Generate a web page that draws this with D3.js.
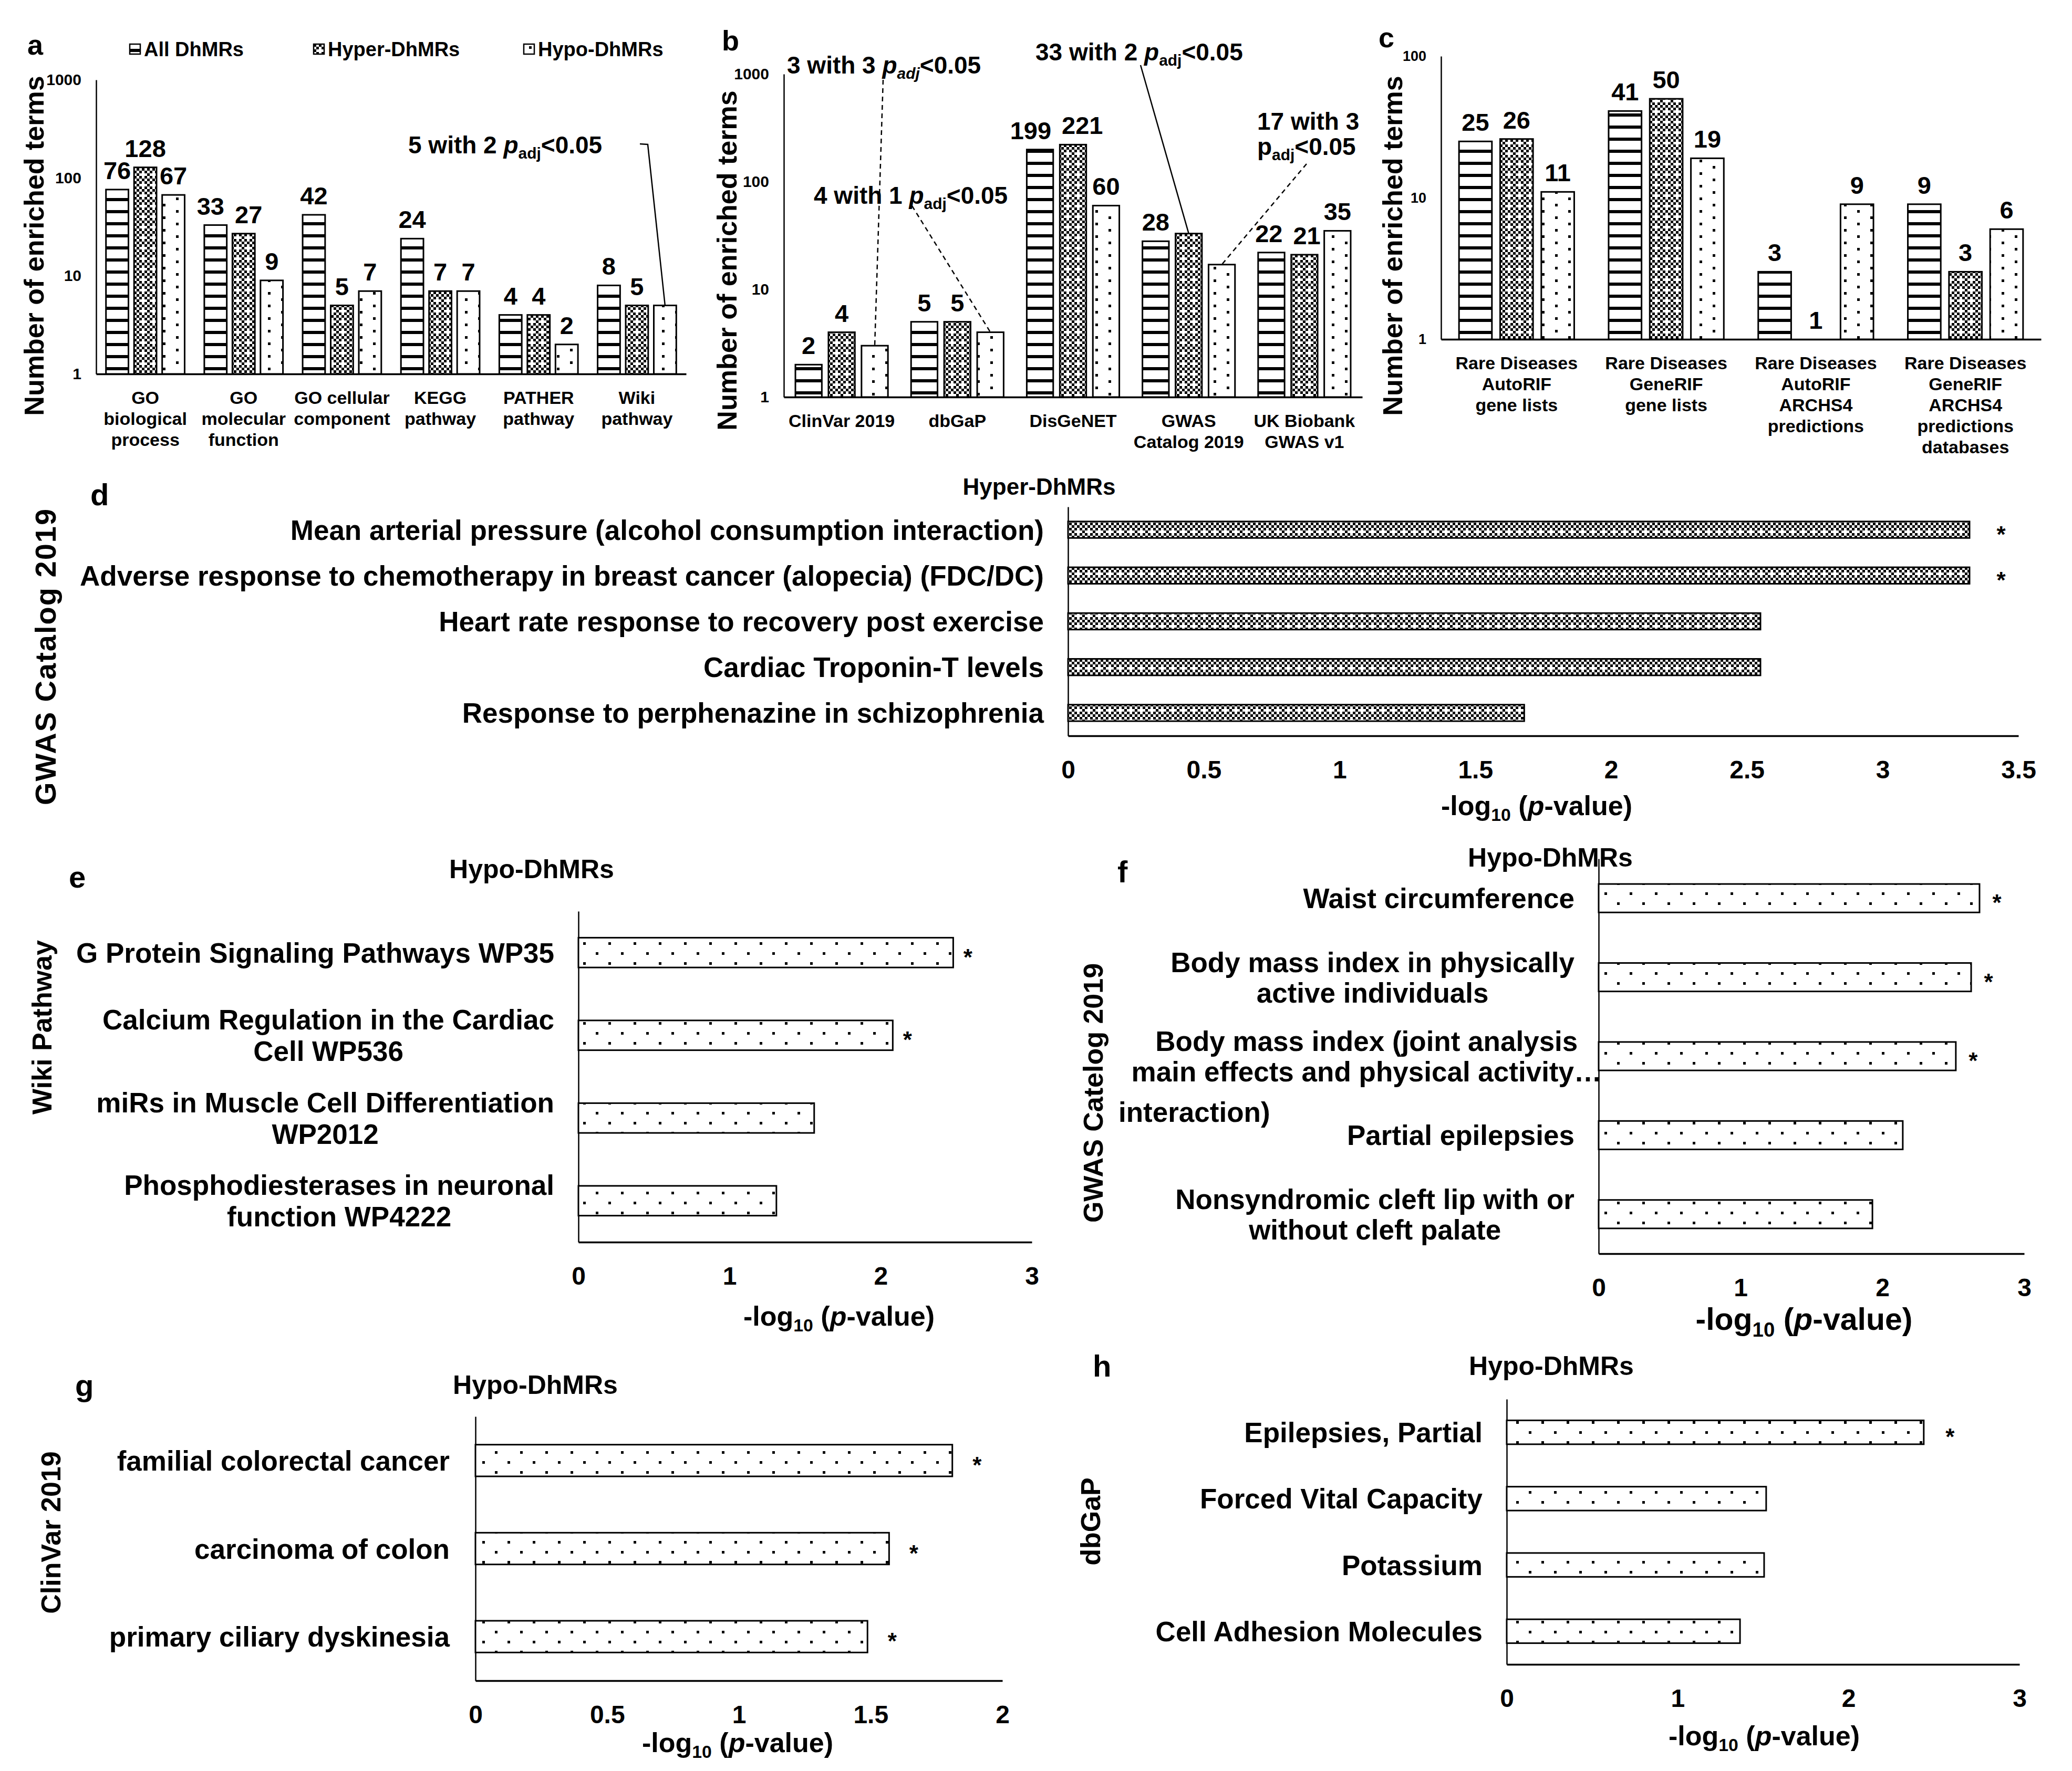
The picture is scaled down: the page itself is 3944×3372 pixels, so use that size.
<!DOCTYPE html>
<html>
<head>
<meta charset="utf-8">
<script src="https://cdn.jsdelivr.net/npm/d3@7"></script>
<style>
  body { margin: 0; background: #fff; }
  svg { display: block; font-family: "Liberation Sans", Arial, Helvetica, sans-serif; font-weight: bold; }
</style>
</head>
<body>
<svg id="fig"></svg>
<script>
// ---------- data ----------
const seriesNames = ["All DhMRs", "Hyper-DhMRs", "Hypo-DhMRs"];

const aCategories = [["GO", "biological", "process"], ["GO", "molecular", "function"], ["GO cellular", "component"],
  ["KEGG", "pathway"], ["PATHER", "pathway"], ["Wiki", "pathway"]];
const aAll = [76, 33, 42, 24, 4, 8];
const aHyper = [128, 27, 5, 7, 4, 5];
const aHypo = [67, 9, 7, 7, 2, 5];

const bCategories = [["ClinVar 2019"], ["dbGaP"], ["DisGeNET"], ["GWAS", "Catalog 2019"], ["UK Biobank", "GWAS v1"]];
const bAll = [2, 5, 199, 28, 22];
const bHyper = [4, 5, 221, 33, 21];
const bHypo = [3, 4, 60, 17, 35];

const cCategories = [["Rare Diseases", "AutoRIF", "gene lists"], ["Rare Diseases", "GeneRIF", "gene lists"],
  ["Rare Diseases", "AutoRIF", "ARCHS4", "predictions"], ["Rare Diseases", "GeneRIF", "ARCHS4", "predictions", "databases"]];
const cAll = [25, 41, 3, 9];
const cHyper = [26, 50, 1, 3];
const cHypo = [11, 19, 9, 6];

const logTicks = [1, 10, 100, 1000];

// notes: which bar (category, series) and the text lines
const aNotes = [{ cat: 5, series: 2, lines: [["5 with 2 ", { t: "p", it: true }, { t: "adj", sub: true }, "<0.05"]] }];
const bNotes = [
  { cat: 0, series: 2, lines: [["3 with 3 ", { t: "p", it: true }, { t: "adj", sub: true, it: true }, "<0.05"]] },
  { cat: 1, series: 2, lines: [["4 with 1 ", { t: "p", it: true }, { t: "adj", sub: true }, "<0.05"]] },
  { cat: 3, series: 1, lines: [["33 with 2 ", { t: "p", it: true }, { t: "adj", sub: true }, "<0.05"]] },
  { cat: 3, series: 2, lines: [["17 with 3"], ["p", { t: "adj", sub: true }, "<0.05"]] }
];

const dLabels = [["Mean arterial pressure (alcohol consumption interaction)"],
  ["Adverse response to chemotherapy in breast cancer (alopecia) (FDC/DC)"],
  ["Heart rate response to recovery post exercise"], ["Cardiac Troponin-T levels"],
  ["Response to perphenazine in schizophrenia"]];
const dValues = [3.32, 3.32, 2.55, 2.55, 1.68];
const dSig = [true, true, false, false, false];
const dTicks = [0, 0.5, 1, 1.5, 2, 2.5, 3, 3.5];

const eLabels = [["G Protein Signaling Pathways WP35"], ["Calcium Regulation in the Cardiac", "Cell WP536"],
  ["miRs in Muscle Cell Differentiation", "WP2012"], ["Phosphodiesterases in neuronal", "function WP4222"]];
const eValues = [2.48, 2.08, 1.56, 1.31];
const eSig = [true, true, false, false];
const eTicks = [0, 1, 2, 3];

const fLabels = [["Waist circumference"], ["Body mass index in physically", "active individuals"],
  ["Body mass index (joint analysis", "main effects and physical activity\u2026"], ["Partial epilepsies"],
  ["Nonsyndromic cleft lip with or", "without cleft palate"]];
const fExtraLine = { index: 2, text: "interaction)" };
const fValues = [2.685, 2.626, 2.518, 2.144, 1.93];
const fSig = [true, true, true, false, false];
const fTicks = [0, 1, 2, 3];

const gLabels = [["familial colorectal cancer"], ["carcinoma of colon"], ["primary ciliary dyskinesia"]];
const gValues = [1.81, 1.57, 1.488];
const gSig = [true, true, true];
const gTicks = [0, 0.5, 1, 1.5, 2];

const hLabels = [["Epilepsies, Partial"], ["Forced Vital Capacity"], ["Potassium"], ["Cell Adhesion Molecules"]];
const hValues = [2.44, 1.518, 1.506, 1.365];
const hSig = [true, false, false, false];
const hTicks = [0, 1, 2, 3];

const xTitle = ["-log", { t: "10", sub: true }, " (", { t: "p", it: true }, "-value)"];

// ---------- setup ----------
const width = 3944;
const height = 3372;
const svg = d3.select("#fig").attr("width", width).attr("height", height);
svg.append("rect").attr("width", width).attr("height", height).attr("fill", "#fff");

const defs = svg.append("defs");
function pattern(id, w, h, cells) {
  const p = defs.append("pattern").attr("id", id).attr("patternUnits", "userSpaceOnUse")
    .attr("width", w).attr("height", h);
  p.append("rect").attr("width", w).attr("height", h).attr("fill", "#fff");
  cells.forEach(c => p.append("rect").attr("x", c[0]).attr("y", c[1]).attr("width", c[2]).attr("height", c[3]).attr("fill", "#000"));
}
pattern("pStripe", 24, 23, [[0, 9, 24, 6]]);
const u = 5;
pattern("pCheck", 4 * u, 4 * u, [[0, 0], [0, 2], [2, 0], [1, 1], [1, 3], [3, 1], [3, 3]].map(c => [c[0] * u, c[1] * u, u, u]));
pattern("pDotV", 50, 24, [[10, 4, 5, 5], [35, 16, 5, 5]]);
pattern("pDotH", 48, 38, [[6, 8, 5, 5], [30, 27, 5, 5]]);
const vFills = ["url(#pStripe)", "url(#pCheck)", "url(#pDotV)"];

function rich(text, segs, fs) {
  let shift = 0;
  segs.forEach(s => {
    const seg = typeof s === "string" ? { t: s } : s;
    const ts = text.append("tspan").text(seg.t);
    if (seg.it) ts.attr("font-style", "italic");
    if (seg.sub) {
      shift = fs * 0.22;
      ts.attr("font-size", fs * 0.65).attr("dy", shift);
    } else if (shift) {
      ts.attr("dy", -shift);
      shift = 0;
    }
  });
  return text;
}

function letter(t, x, y, fs) {
  svg.append("text").attr("x", x).attr("y", y).attr("font-size", fs).text(t);
}

function yTitle(t, x, y, fs, ls) {
  svg.append("text").attr("transform", `translate(${x},${y}) rotate(-90)`)
    .attr("text-anchor", "middle").attr("dy", "0.36em").attr("font-size", fs)
    .attr("letter-spacing", ls || null).text(t);
}

// ---------- grouped log bar charts ----------
function groupedBars(cfg) {
  const g = svg.append("g");
  const series = [cfg.all, cfg.hyper, cfg.hypo];
  const x = d3.scaleBand().domain(d3.range(cfg.categories.length)).range([cfg.x0, cfg.x1])
    .paddingInner(cfg.padIn).paddingOuter(cfg.padOut);
  const xs = d3.scaleBand().domain([0, 1, 2]).range([0, x.bandwidth()]).paddingInner(0.2);
  const y = d3.scaleLog().domain([1, cfg.yMax]).range([cfg.yBottom, cfg.yTop]);

  const gy = g.append("g").attr("transform", `translate(${cfg.x0},0)`)
    .call(d3.axisLeft(y).tickValues(logTicks.filter(t => t <= cfg.yMax)).tickFormat(d3.format("d")).tickSize(0).tickPadding(28))
    .attr("font-size", null).attr("font-family", null);
  gy.select(".domain").attr("stroke-width", 2.5);
  gy.selectAll("text").attr("font-size", cfg.tickFs);

  const gx = g.append("g").attr("transform", `translate(0,${cfg.yBottom})`)
    .call(d3.axisBottom(x).tickSize(0).tickFormat(""))
    .attr("font-size", null).attr("font-family", null);
  gx.select(".domain").attr("stroke-width", 3.5);
  gx.selectAll(".tick text").each(function (d) {
    const t = d3.select(this).attr("y", null).attr("dy", null).attr("font-size", 34);
    cfg.categories[d].forEach((line, k) => t.append("tspan").attr("x", 0).attr("y", 57 + k * 40).text(line));
  });

  series.forEach((vals, s) => {
    g.append("g").selectAll("rect").data(vals).join("rect")
      .attr("x", (d, i) => x(i) + xs(s))
      .attr("y", d => y(d))
      .attr("width", xs.bandwidth())
      .attr("height", d => cfg.yBottom - y(d))
      .attr("fill", vFills[s])
      .attr("stroke", "#000").attr("stroke-width", 3);
  });

  // value labels, nudged apart where neighbours collide (like Excel does)
  const fs = 47;
  const noted = new Set(cfg.notes.map(n => n.cat + "_" + n.series));
  const labels = [];
  cfg.categories.forEach((c, i) => {
    const row = [];
    series.forEach((vals, s) => {
      if (noted.has(i + "_" + s)) return;
      row.push({ v: vals[i], cx: x(i) + xs(s) + xs.bandwidth() / 2, cy: y(vals[i]) - 20, w: String(vals[i]).length * 0.556 * fs });
    });
    for (let k = 1; k < row.length; k++) {
      const a = row[k - 1], b = row[k];
      const over = (a.w + b.w) / 2 + 20 - (b.cx - a.cx);
      if (over > 0 && Math.abs(a.cy - b.cy) < 0.72 * fs) { a.cx -= over / 2; b.cx += over / 2; }
    }
    labels.push(...row);
  });
  g.append("g").selectAll("text").data(labels).join("text")
    .attr("x", d => d.cx).attr("y", d => d.cy)
    .attr("text-anchor", "middle").attr("font-size", fs)
    .text(d => d.v);

  cfg.notes.forEach((n, k) => {
    const lay = cfg.noteLayout[k];
    n.lines.forEach((line, j) => {
      rich(g.append("text").attr("x", lay.x).attr("y", lay.y + j * 48).attr("font-size", 46), line, 46);
    });
    const vals = series[n.series];
    const target = [x(n.cat) + xs(n.series) + xs.bandwidth() / 2, y(vals[n.cat])];
    g.append("path").attr("d", d3.line()(lay.from.concat([target])))
      .attr("fill", "none").attr("stroke", "#000").attr("stroke-width", 2.5)
      .attr("stroke-dasharray", lay.dash ? "9,7" : null);
  });
}

groupedBars({
  categories: aCategories, all: aAll, hyper: aHyper, hypo: aHypo, notes: aNotes,
  noteLayout: [{ x: 777, y: 292, from: [[1218, 274], [1233, 275]], dash: false }],
  x0: 183, x1: 1306, yTop: 152, yBottom: 712, yMax: 1000, padIn: 0.2, padOut: 0.1, tickFs: 30
});
groupedBars({
  categories: bCategories, all: bAll, hyper: bHyper, hypo: bHypo, notes: bNotes,
  noteLayout: [
    { x: 1498, y: 140, from: [[1681, 152]], dash: true },
    { x: 1549, y: 388, from: [[1736, 392]], dash: true },
    { x: 1971, y: 115, from: [[2171, 124]], dash: false },
    { x: 2393, y: 247, from: [[2487, 312]], dash: true }
  ],
  x0: 1492, x1: 2593, yTop: 141, yBottom: 756, yMax: 1000, padIn: 0.2, padOut: 0.1, tickFs: 30
});
groupedBars({
  categories: cCategories, all: cAll, hyper: cHyper, hypo: cHypo, notes: [], noteLayout: [],
  x0: 2743, x1: 3885, yTop: 107, yBottom: 646, yMax: 100, padIn: 0.23, padOut: 0.12, tickFs: 27
});

letter("a", 52, 104, 54);
letter("b", 1374, 96, 54);
letter("c", 2624, 90, 54);
yTitle("Number of enriched terms", 64, 468, 52);
yTitle("Number of enriched terms", 1383, 496, 52);
yTitle("Number of enriched terms", 2650, 468, 52);

// legend
const legendX = [247, 597, 997];
const legend = svg.append("g").selectAll("g").data(seriesNames).join("g")
  .attr("transform", (d, i) => `translate(${legendX[i]},84)`);
legend.append("rect").attr("width", 20).attr("height", 19)
  .attr("fill", (d, i) => vFills[i]).attr("stroke", "#000").attr("stroke-width", 2.5);
legend.append("text").attr("x", 27).attr("y", 23).attr("font-size", 38).text(d => d);

// ---------- horizontal bar charts ----------
function hBars(cfg) {
  const g = svg.append("g");
  const x = d3.scaleLinear().domain([0, cfg.ticks[cfg.ticks.length - 1]]).range([cfg.x0, cfg.x1]);
  const y = d3.scaleBand().domain(d3.range(cfg.values.length)).range([cfg.yTop, cfg.yBottom])
    .paddingInner(0.64).paddingOuter(0.32);

  const gx = g.append("g").attr("transform", `translate(0,${cfg.yBottom})`)
    .call(d3.axisBottom(x).tickValues(cfg.ticks).tickFormat(d => String(d)).tickSize(0).tickPadding(47))
    .attr("font-size", null).attr("font-family", null);
  gx.select(".domain").attr("stroke-width", 3.5);
  gx.selectAll("text").attr("font-size", 48);

  const gy = g.append("g").attr("transform", `translate(${cfg.x0},0)`)
    .call(d3.axisLeft(y).tickSize(0).tickFormat(""))
    .attr("font-size", null).attr("font-family", null);
  gy.select(".domain").attr("stroke-width", 2.5);
  const fs = cfg.labelFs;
  gy.selectAll(".tick text").each(function (d) {
    const lines = cfg.labels[d];
    const n = lines.length;
    const t = d3.select(this).attr("x", null).attr("dy", null).attr("text-anchor", "middle").attr("font-size", fs);
    const spans = lines.map((line, k) => t.append("tspan").attr("x", 0)
      .attr("y", (k - (n - 1) / 2) * cfg.lineH + 0.36 * fs).text(line));
    const maxW = d3.max(spans, s => s.node().getComputedTextLength());
    const gap = cfg.gapOverride && cfg.gapOverride[d] !== undefined ? cfg.gapOverride[d] : cfg.gap;
    spans.forEach(s => s.attr("x", -gap - maxW / 2));
  });
  if (cfg.extra) {
    g.append("text").attr("x", cfg.extra.x)
      .attr("y", y(cfg.extra.index) + y.bandwidth() / 2 + 106 + 0.36 * fs)
      .attr("text-anchor", "start").attr("font-size", fs).text(cfg.extra.text);
  }

  g.append("g").selectAll("rect").data(cfg.values).join("rect")
    .attr("x", cfg.x0)
    .attr("y", (d, i) => y(i))
    .attr("width", d => x(d) - cfg.x0)
    .attr("height", y.bandwidth())
    .attr("fill", cfg.fill)
    .attr("stroke", "#000").attr("stroke-width", 3);

  const stars = cfg.values.map((v, i) => ({ v, i })).filter(d => cfg.sig[d.i]);
  g.append("g").selectAll("text").data(stars).join("text")
    .attr("x", d => x(d.v) + cfg.starGap)
    .attr("y", d => y(d.i) + y.bandwidth() / 2 + 24)
    .attr("text-anchor", "middle").attr("font-size", 44)
    .text("*");

  rich(g.append("text").attr("x", cfg.xtitle[0]).attr("y", cfg.xtitle[1]).attr("text-anchor", "middle")
    .attr("font-size", cfg.xtitleFs), xTitle, cfg.xtitleFs);
  g.append("text").attr("x", cfg.title[0]).attr("y", cfg.title[1]).attr("text-anchor", "middle")
    .attr("font-size", cfg.titleFs || 50).text(cfg.titleText);
}

hBars({
  labels: dLabels, values: dValues, sig: dSig, ticks: dTicks, fill: "url(#pCheck)",
  x0: 2033, x1: 3842, yTop: 965, yBottom: 1401, gap: 46, labelFs: 53, lineH: 58, starGap: 60,
  xtitle: [2925, 1552], xtitleFs: 52, title: [1978, 942], titleFs: 44, titleText: "Hyper-DhMRs"
});
hBars({
  labels: eLabels, values: eValues, sig: eSig, ticks: eTicks, fill: "url(#pDotH)",
  x0: 1101, x1: 1964, yTop: 1735, yBottom: 2365, gap: 46, labelFs: 53, lineH: 60, starGap: 28,
  xtitle: [1597, 2524], xtitleFs: 52, title: [1012, 1672], titleText: "Hypo-DhMRs"
});
hBars({
  labels: fLabels, values: fValues, sig: fSig, ticks: fTicks, fill: "url(#pDotH)",
  extra: { index: fExtraLine.index, text: fExtraLine.text, x: 2129 }, gapOverride: { 2: -6 },
  x0: 3043, x1: 3853, yTop: 1635, yBottom: 2387, gap: 46, labelFs: 53, lineH: 58, starGap: 33,
  xtitle: [3434, 2532], xtitleFs: 59, title: [2951, 1650], titleText: "Hypo-DhMRs"
});
hBars({
  labels: gLabels, values: gValues, sig: gSig, ticks: gTicks, fill: "url(#pDotH)",
  x0: 905, x1: 1908, yTop: 2697, yBottom: 3200, gap: 49, labelFs: 53, lineH: 60, starGap: 47,
  xtitle: [1404, 3336], xtitleFs: 52, title: [1019, 2654], titleText: "Hypo-DhMRs"
});
hBars({
  labels: hLabels, values: hValues, sig: hSig, ticks: hTicks, fill: "url(#pDotH)",
  x0: 2868, x1: 3844, yTop: 2664, yBottom: 3169, gap: 46, labelFs: 53, lineH: 60, starGap: 50,
  xtitle: [3358, 3323], xtitleFs: 52, title: [2953, 2618], titleText: "Hypo-DhMRs"
});

letter("d", 172, 962, 58);
letter("e", 131, 1690, 58);
letter("f", 2127, 1680, 58);
letter("g", 143, 2658, 58);
letter("h", 2080, 2621, 58);
yTitle("GWAS Catalog 2019", 86, 1250, 56, 2);
yTitle("Wiki Pathway", 79, 1956, 52);
yTitle("GWAS Catelog 2019", 2080, 2081, 52);
yTitle("ClinVar 2019", 96, 2918, 52);
yTitle("dbGaP", 2075, 2897, 52);
</script>
</body>
</html>
